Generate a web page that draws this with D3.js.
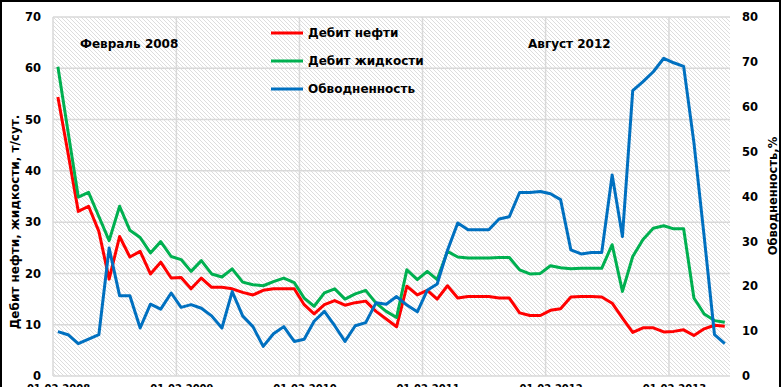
<!DOCTYPE html>
<html>
<head>
<meta charset="utf-8">
<script src="https://cdn.jsdelivr.net/npm/d3@7"></script>
<style>
  body { margin: 0; background: #fff; }
  svg { display: block; font-family: "DejaVu Sans", Verdana, sans-serif; font-weight: bold; }
</style>
</head>
<body>
<div id="chart"></div>
<script>
// monthly data, Feb 2008 .. Jul 2013
var oil = [54.4, 43.5, 32.1, 33.1, 28.2, 18.9, 27.2, 23.2, 24.3, 19.9, 22.2, 19.1, 19.2, 17.0, 19.1, 17.3, 17.3,
           17.0, 16.3, 15.8, 16.7, 17.0, 17.0, 17.0, 13.9, 12.1, 13.9, 14.7, 13.8, 14.3, 14.6, 12.6, 11.1,
           9.6, 17.5, 15.8, 16.7, 15.0, 17.6, 15.2, 15.5, 15.5, 15.5, 15.2, 15.2, 12.3, 11.8, 11.8, 12.8, 13.1,
           15.4, 15.5, 15.5, 15.4, 14.2, 11.3, 8.5, 9.4, 9.4, 8.6, 8.7, 9.0, 7.9, 9.2, 9.9, 9.7];
var liquid = [60.3, 47.7, 34.9, 35.8, 31.1, 26.4, 33.1, 28.4, 27.0, 24.0, 26.2, 23.3, 22.7, 20.4, 22.5, 19.9, 19.3,
              20.9, 18.3, 17.8, 17.6, 18.4, 19.1, 18.2, 15.2, 13.6, 16.2, 17.0, 15.0, 16.0, 16.7, 14.2, 12.6,
              11.4, 20.7, 18.8, 20.4, 18.8, 24.3, 23.2, 23.0, 23.0, 23.0, 23.1, 23.1, 20.7, 19.9, 20.0, 21.5, 21.1,
              20.9, 21.0, 21.0, 21.0, 25.6, 16.5, 23.3, 26.6, 28.8, 29.3, 28.7, 28.7, 15.2, 12.1, 10.8, 10.5];
var watercut = [9.9, 9.2, 7.2, 8.2, 9.2, 28.5, 17.9, 17.9, 10.7, 16.0, 14.9, 18.5, 15.3, 15.9, 15.1, 13.4, 10.7,
                18.8, 13.4, 11.0, 6.6, 9.4, 11.0, 7.7, 8.2, 12.2, 14.4, 11.2, 7.7, 11.2, 11.9, 16.3, 16.0,
                17.7, 15.8, 14.3, 19.1, 20.5, 28.0, 34.1, 32.6, 32.6, 32.6, 35.0, 35.5, 40.9, 40.9, 41.1, 40.6, 39.3,
                28.1, 27.2, 27.5, 27.5, 44.8, 31.1, 63.6, 65.6, 67.8, 70.8, 69.8, 69.0, 52.0, 31.0, 9.2, 7.2];
var seriesNames = ["Дебит нефти", "Дебит жидкости", "Обводненность"];
var seriesColors = ["#ff0000", "#00b050", "#0070c0"];
var xTickLabels = ["01.02.2008", "01.02.2009", "01.02.2010", "01.02.2011", "01.02.2012", "01.02.2013"];
var leftTicks = [0, 10, 20, 30, 40, 50, 60, 70];
var rightTicks = [0, 10, 20, 30, 40, 50, 60, 70, 80];
var notes = ["Февраль 2008", "Август 2012"];

var W = 782, H = 387;
var plot = {left: 53, right: 730, top: 17, bottom: 376};

var parse = d3.timeParse("%d.%m.%Y");
var months = d3.timeMonth.range(new Date(2008, 1, 1), new Date(2013, 7, 1));

var x = d3.scaleTime()
  .domain([new Date(2008, 1, 1), new Date(2013, 7, 1)])
  .range([plot.left, plot.right]);
var yL = d3.scaleLinear().domain([0, 70]).range([plot.bottom, plot.top]);
var yR = d3.scaleLinear().domain([0, 80]).range([plot.bottom, plot.top]);

// center of month
function xm(i) {
  var a = x(months[i]), b = x(d3.timeMonth.offset(months[i], 1));
  return (a + b) / 2;
}

var svg = d3.select("#chart").append("svg")
  .attr("width", W).attr("height", H);

var defs = svg.append("defs");
var pat = defs.append("pattern")
  .attr("id", "hatch").attr("patternUnits", "userSpaceOnUse")
  .attr("width", 4).attr("height", 4);
pat.append("rect").attr("width", 4).attr("height", 4).attr("fill", "#fff");
pat.append("path").attr("d", "M-1,-1 L5,5 M-1,3 L1,5 M3,-1 L5,1")
  .attr("stroke", "#d4d4d4").attr("stroke-width", 0.8);

svg.append("rect").attr("width", W).attr("height", H).attr("fill", "#fff");

// plot background
svg.append("rect")
  .attr("x", plot.left).attr("y", plot.top)
  .attr("width", plot.right - plot.left).attr("height", plot.bottom - plot.top)
  .attr("fill", "url(#hatch)");

// gridlines
svg.append("g").selectAll("line").data(leftTicks).enter().append("line")
  .attr("x1", plot.left).attr("x2", plot.right)
  .attr("y1", function(d) { return yL(d); }).attr("y2", function(d) { return yL(d); })
  .attr("stroke", "#d9d9d9").attr("stroke-width", 1.5);
svg.append("g").selectAll("line").data(xTickLabels).enter().append("line")
  .attr("x1", function(d) { return x(parse(d)); }).attr("x2", function(d) { return x(parse(d)); })
  .attr("y1", plot.top).attr("y2", plot.bottom)
  .attr("stroke", "#d9d9d9").attr("stroke-width", 1.5);

// axes
var axL = svg.append("g")
  .attr("transform", "translate(" + plot.left + ",0)")
  .call(d3.axisLeft(yL).tickValues(leftTicks).tickSize(0).tickPadding(12));
var axR = svg.append("g")
  .attr("transform", "translate(" + plot.right + ",0)")
  .call(d3.axisRight(yR).tickValues(rightTicks).tickSize(0).tickPadding(12));
var axB = svg.append("g")
  .attr("transform", "translate(0," + plot.bottom + ")")
  .call(d3.axisBottom(x).tickValues(xTickLabels.map(parse))
    .tickFormat(d3.timeFormat("%d.%m.%Y")).tickSize(0).tickPadding(9));
[axL, axR, axB].forEach(function(a) {
  a.select(".domain").remove();
  a.selectAll("text").attr("fill", "#000")
    .style("font-family", "DejaVu Sans, Verdana, sans-serif")
    .style("font-weight", "bold");
});
axL.selectAll("text").style("font-size", "11.5px");
axR.selectAll("text").style("font-size", "11.5px");
axB.selectAll("text").style("font-size", "10px").attr("dx", 5);

// lines
var data = [oil, liquid, watercut];
var scales = [yL, yL, yR];
data.forEach(function(vals, k) {
  var line = d3.line()
    .x(function(d, i) { return xm(i); })
    .y(function(d) { return scales[k](d); });
  svg.append("path").datum(vals)
    .attr("d", line)
    .attr("fill", "none")
    .attr("stroke", seriesColors[k])
    .attr("stroke-width", 3)
    .attr("stroke-linejoin", "round");
});

// legend
var legend = svg.selectAll(".legend").data(seriesNames).enter().append("g")
  .attr("class", "legend")
  .attr("transform", function(d, i) { return "translate(271," + (33 + i * 28) + ")"; });
legend.append("line").attr("x1", 0).attr("x2", 32)
  .attr("stroke", function(d, i) { return seriesColors[i]; }).attr("stroke-width", 3);
legend.append("text").attr("x", 37).attr("dy", "0.35em")
  .style("font-size", "12px").text(function(d) { return d; });

// notes
svg.append("text").attr("x", 80).attr("y", 48).style("font-size", "12px").text(notes[0]);
svg.append("text").attr("x", 528).attr("y", 48).style("font-size", "12px").text(notes[1]);

// axis titles
svg.append("text")
  .attr("transform", "translate(19,222) rotate(-90)")
  .attr("text-anchor", "middle").style("font-size", "12px")
  .text("Дебит нефти, жидкости, т/сут.");
svg.append("text")
  .attr("transform", "translate(777,196) rotate(-90)")
  .attr("text-anchor", "middle").style("font-size", "11.5px")
  .text("Обводненность,%");

// outer border
svg.append("rect").attr("x", 1).attr("y", 1).attr("width", W - 3).attr("height", H + 10)
  .attr("fill", "none").attr("stroke", "#000").attr("stroke-width", 2);
</script>
</body>
</html>
